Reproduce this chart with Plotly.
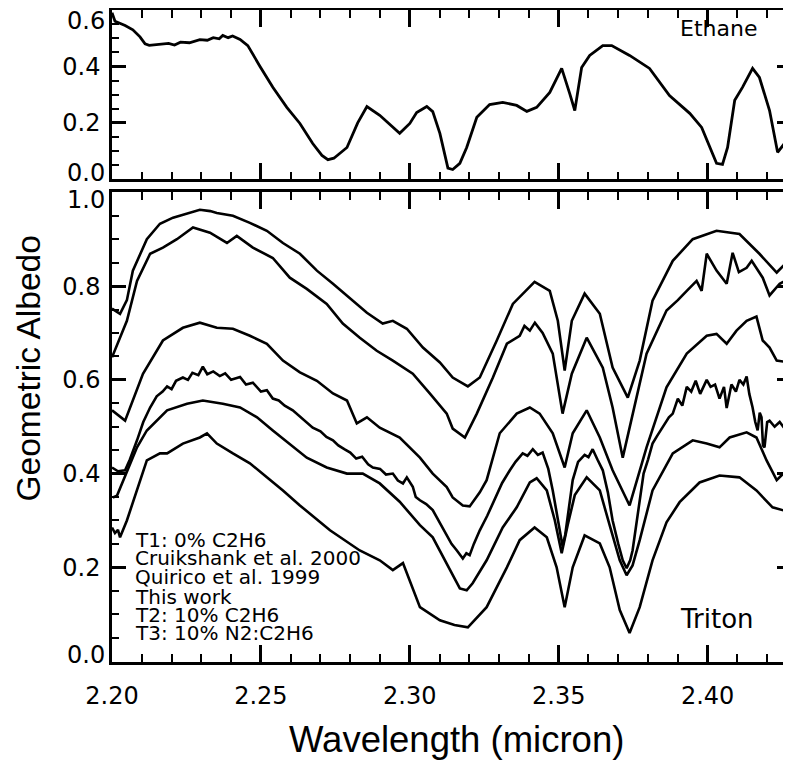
import plotly.graph_objects as go

# ---------------- Ethane (top panel) ----------------
eth_wl = [2.2000, 2.2010, 2.2044, 2.2070, 2.2094, 2.2111, 2.2125, 2.2160, 2.2190, 2.2210, 2.2230,
          2.2260, 2.2280, 2.2295, 2.2320, 2.2340, 2.2360, 2.2372, 2.2390, 2.2405, 2.2430, 2.2456,
          2.2497, 2.2540, 2.2587, 2.2631, 2.2674, 2.2705, 2.2725, 2.2745, 2.2789, 2.2825, 2.2856,
          2.2899, 2.2966, 2.3000, 2.3023, 2.3057, 2.3077, 2.3101, 2.3128, 2.3144, 2.3168, 2.3191,
          2.3225, 2.3268, 2.3312, 2.3359, 2.3393, 2.3426, 2.3470, 2.3510, 2.3537, 2.3554, 2.3577,
          2.3604, 2.3648, 2.3678, 2.3738, 2.3805, 2.3872, 2.3940, 2.3980, 2.4007, 2.4030, 2.4050,
          2.4067, 2.4091, 2.4117, 2.4151, 2.4174, 2.4208, 2.4235, 2.4258, 2.4280]
eth_alb = [0.59, 0.56, 0.545, 0.53, 0.505, 0.48, 0.475, 0.48, 0.482, 0.476, 0.486,
           0.484, 0.49, 0.495, 0.493, 0.502, 0.498, 0.51, 0.502, 0.508, 0.496, 0.474,
           0.40, 0.326, 0.255, 0.198, 0.127, 0.085, 0.07, 0.075, 0.113, 0.20, 0.258,
           0.227, 0.163, 0.198, 0.237, 0.258, 0.24, 0.163, 0.04, 0.035, 0.057, 0.113,
           0.22, 0.265, 0.273, 0.262, 0.241, 0.255, 0.308, 0.393, 0.304, 0.244, 0.396,
           0.439, 0.474, 0.474, 0.439, 0.393, 0.297, 0.234, 0.184, 0.113, 0.057, 0.053,
           0.113, 0.28, 0.326, 0.393, 0.361, 0.244, 0.096, 0.127, 0.19]

# ---------------- Triton (lower panel) ----------------
c1_wl = [2.2000, 2.2027, 2.2050, 2.2070, 2.2117, 2.2161, 2.2205, 2.2262, 2.2295, 2.2330, 2.2352,
         2.2406, 2.2463, 2.2520, 2.2574, 2.2631, 2.2688, 2.2742, 2.2799, 2.2856, 2.2909, 2.2943,
         2.2990, 2.3044, 2.3101, 2.3124, 2.3144, 2.3195, 2.3235, 2.3292, 2.3346, 2.3419, 2.3470,
         2.3497, 2.3520, 2.3544, 2.3587, 2.3638, 2.3681, 2.3732, 2.3772, 2.3815, 2.3883, 2.3950,
         2.4030, 2.4107, 2.4174, 2.4232, 2.4280]
c1_alb = [0.752, 0.741, 0.77, 0.833, 0.90, 0.933, 0.946, 0.956, 0.963, 0.96, 0.956,
          0.95, 0.935, 0.918, 0.892, 0.869, 0.833, 0.805, 0.773, 0.743, 0.72, 0.726,
          0.709, 0.669, 0.637, 0.62, 0.605, 0.586, 0.605, 0.684, 0.762, 0.809, 0.79,
          0.726, 0.62, 0.726, 0.784, 0.741, 0.626, 0.562, 0.641, 0.769, 0.854, 0.90,
          0.918, 0.911, 0.869, 0.829, 0.86]

c2_wl = [2.2000, 2.2050, 2.2084, 2.2128, 2.2171, 2.2218, 2.2272, 2.2329, 2.2386, 2.2419, 2.2473,
         2.2540, 2.2597, 2.2654, 2.2721, 2.2775, 2.2832, 2.2889, 2.2943, 2.3010, 2.3067, 2.3124,
         2.3144, 2.3185, 2.3225, 2.3279, 2.3326, 2.3369, 2.3385, 2.3403, 2.3420, 2.3446, 2.3480,
         2.3513, 2.3544, 2.3594, 2.3648, 2.3681, 2.3715, 2.3748, 2.3795, 2.3862, 2.3900, 2.3930,
         2.3963, 2.3980, 2.3997, 2.4030, 2.4064, 2.4084, 2.4105, 2.4131, 2.4148, 2.4185, 2.4208,
         2.4242, 2.4280]
c2_alb = [0.648, 0.726, 0.811, 0.869, 0.882, 0.90, 0.925, 0.914, 0.892, 0.907, 0.882,
          0.86, 0.818, 0.794, 0.762, 0.72, 0.69, 0.662, 0.641, 0.613, 0.571, 0.528,
          0.496, 0.477, 0.528, 0.605, 0.677, 0.694, 0.715, 0.705, 0.722, 0.70, 0.656,
          0.528, 0.613, 0.69, 0.626, 0.541, 0.434, 0.528, 0.656, 0.748, 0.77, 0.79,
          0.811, 0.79, 0.869, 0.833, 0.805, 0.871, 0.83, 0.839, 0.854, 0.818, 0.78,
          0.805, 0.818]

c3_wl = [2.2000, 2.2044, 2.2104, 2.2171, 2.2238, 2.2295, 2.2352, 2.2406, 2.2463, 2.2520, 2.2574,
         2.2631, 2.2688, 2.2742, 2.2789, 2.2822, 2.2856, 2.2899, 2.2966, 2.3034, 2.3077, 2.3124,
         2.3144, 2.3178, 2.3201, 2.3235, 2.3258, 2.3302, 2.3359, 2.3403, 2.3436, 2.3480, 2.3520,
         2.3547, 2.3594, 2.3638, 2.3681, 2.3738, 2.3795, 2.3862, 2.3930, 2.3997, 2.4030, 2.4064,
         2.4097, 2.4131, 2.4164, 2.4185, 2.4208, 2.4232, 2.4280]
c3_alb = [0.535, 0.513, 0.613, 0.684, 0.711, 0.722, 0.711, 0.709, 0.694, 0.677, 0.641,
          0.616, 0.598, 0.571, 0.556, 0.507, 0.52, 0.498, 0.477, 0.434, 0.40, 0.371,
          0.349, 0.332, 0.33, 0.36, 0.386, 0.486, 0.528, 0.541, 0.528, 0.486, 0.413,
          0.486, 0.535, 0.477, 0.407, 0.332, 0.456, 0.584, 0.656, 0.694, 0.698, 0.677,
          0.705, 0.726, 0.735, 0.684, 0.669, 0.641, 0.637]

c4_wl = [2.2000, 2.2020, 2.2044, 2.2060, 2.2084, 2.2105, 2.2128, 2.2150, 2.2170, 2.2185, 2.2200,
         2.2215, 2.2238, 2.2255, 2.2270, 2.2290, 2.2305, 2.2320, 2.2340, 2.2362, 2.2380, 2.2400,
         2.2430, 2.2450, 2.2473, 2.2500, 2.2520, 2.2540, 2.2560, 2.2580, 2.2607, 2.2630, 2.2650,
         2.2674, 2.2700, 2.2720, 2.2742, 2.2760, 2.2780, 2.2800, 2.2820, 2.2840, 2.2860, 2.2876,
         2.2900, 2.2920, 2.2943, 2.2960, 2.2977, 2.2990, 2.3010, 2.3020, 2.3034, 2.3055, 2.3077,
         2.3100, 2.3124, 2.3140, 2.3158, 2.3178, 2.3190, 2.3201, 2.3215, 2.3235, 2.3260, 2.3292,
         2.3310, 2.3336, 2.3355, 2.3379, 2.3395, 2.3413, 2.3430, 2.3446, 2.3465, 2.3480, 2.3495,
         2.3505, 2.3513, 2.3522, 2.3530, 2.3547, 2.3565, 2.3587, 2.3600, 2.3614, 2.3630, 2.3648,
         2.3665, 2.3681, 2.3700, 2.3715, 2.3728, 2.3740, 2.3748, 2.3760, 2.3772, 2.3785, 2.3800,
         2.3815, 2.3830, 2.3850, 2.3870, 2.3883, 2.3900, 2.3915, 2.3930, 2.3945, 2.3960, 2.3975,
         2.3997, 2.4010, 2.4025, 2.4040, 2.4055, 2.4064, 2.4080, 2.4095, 2.4107, 2.4120, 2.4131,
         2.4140, 2.4151, 2.4160, 2.4168, 2.4175, 2.4181, 2.4186, 2.4191, 2.4200, 2.4208, 2.4225,
         2.4242, 2.4260, 2.4280]
c4_alb = [0.413, 0.405, 0.407, 0.43, 0.471, 0.51, 0.541, 0.565, 0.575, 0.586, 0.580,
          0.598, 0.605, 0.600, 0.615, 0.610, 0.628, 0.612, 0.618, 0.608, 0.614, 0.600,
          0.606, 0.590, 0.594, 0.575, 0.578, 0.560, 0.556, 0.545, 0.535, 0.522, 0.51,
          0.498, 0.49, 0.478, 0.471, 0.46, 0.452, 0.445, 0.432, 0.436, 0.42, 0.413,
          0.41, 0.398, 0.40, 0.385, 0.379, 0.392, 0.372, 0.35, 0.343, 0.335, 0.322,
          0.295, 0.268, 0.25, 0.236, 0.219, 0.23, 0.226, 0.25, 0.279, 0.31, 0.354,
          0.38, 0.407, 0.425, 0.443, 0.438, 0.452, 0.44, 0.445, 0.41, 0.364, 0.31,
          0.27, 0.245, 0.27, 0.31, 0.386, 0.425, 0.44, 0.435, 0.452, 0.43, 0.407,
          0.36, 0.30, 0.25, 0.215, 0.198, 0.215, 0.236, 0.29, 0.343, 0.40, 0.43,
          0.464, 0.48, 0.50, 0.52, 0.528, 0.56, 0.545, 0.585, 0.575, 0.598, 0.57,
          0.60, 0.585, 0.59, 0.56, 0.585, 0.54, 0.59, 0.575, 0.60, 0.59, 0.607,
          0.57, 0.541, 0.51, 0.492, 0.53, 0.52, 0.46, 0.456, 0.51, 0.513, 0.50,
          0.51, 0.495, 0.52]

c5_wl = [2.2003, 2.2017, 2.2084, 2.2117, 2.2185, 2.2252, 2.2305, 2.2372, 2.2430, 2.2487, 2.2540,
         2.2597, 2.2654, 2.2721, 2.2789, 2.2842, 2.2899, 2.2966, 2.3034, 2.3077, 2.3124, 2.3168,
         2.3191, 2.3211, 2.3258, 2.3312, 2.3359, 2.3403, 2.3426, 2.3460, 2.3487, 2.3510, 2.3530,
         2.3554, 2.3594, 2.3638, 2.3671, 2.3705, 2.3728, 2.3748, 2.3772, 2.3815, 2.3883, 2.3950,
         2.3997, 2.4040, 2.4074, 2.4131, 2.4164, 2.4198, 2.4232, 2.4265, 2.4280]
c5_alb = [0.349, 0.353, 0.456, 0.492, 0.535, 0.549, 0.556, 0.549, 0.541, 0.52, 0.492,
          0.464, 0.434, 0.413, 0.40, 0.40, 0.379, 0.34, 0.29, 0.264, 0.209, 0.155,
          0.151, 0.166, 0.215, 0.285, 0.328, 0.381, 0.39, 0.364, 0.30, 0.23, 0.29,
          0.354, 0.392, 0.364, 0.29, 0.215, 0.183, 0.204, 0.258, 0.364, 0.443, 0.471,
          0.464, 0.456, 0.477, 0.488, 0.477, 0.428, 0.386, 0.407, 0.41]

c6_wl = [2.2000, 2.2010, 2.2020, 2.2027, 2.2050, 2.2094, 2.2117, 2.2161, 2.2185, 2.2238, 2.2295,
         2.2319, 2.2352, 2.2406, 2.2463, 2.2520, 2.2574, 2.2631, 2.2732, 2.2832, 2.2899, 2.2943,
         2.2977, 2.3034, 2.3101, 2.3150, 2.3195, 2.3258, 2.3326, 2.3369, 2.3419, 2.3460, 2.3493,
         2.3520, 2.3547, 2.3587, 2.3638, 2.3671, 2.3705, 2.3738, 2.3772, 2.3815, 2.3862, 2.3906,
         2.3973, 2.4040, 2.4107, 2.4164, 2.4218, 2.4280]
c6_alb = [0.285, 0.273, 0.28, 0.264, 0.30, 0.386, 0.428, 0.443, 0.443, 0.464, 0.477,
          0.486, 0.464, 0.443, 0.422, 0.392, 0.364, 0.332, 0.279, 0.236, 0.215, 0.194,
          0.209, 0.115, 0.087, 0.077, 0.072, 0.115, 0.20, 0.258, 0.285, 0.264, 0.20,
          0.115, 0.20, 0.268, 0.251, 0.20, 0.109, 0.06, 0.115, 0.215, 0.296, 0.339,
          0.381, 0.396, 0.392, 0.364, 0.328, 0.317]

legend_lines = ["T1: 0% C2H6", "Cruikshank et al. 2000", "Quirico et al. 1999",
                "This work", "T2: 10% C2H6", "T3: 10% N2:C2H6"]

x_range = [2.20, 2.428]
x_ticks = [2.20, 2.25, 2.30, 2.35, 2.40]
top_y_range = [0.0, 0.6]
top_y_ticks = [0.2, 0.4]
low_y_range = [-0.002, 1.0]
low_y_ticks = [0.2, 0.4, 0.6, 0.8]

fig = go.Figure()
LINE = dict(color="black", width=2.6)
fig.add_trace(go.Scatter(x=eth_wl, y=eth_alb, mode="lines", line=dict(color="black", width=2.8),
                         xaxis="x", yaxis="y", showlegend=False, hoverinfo="skip"))
for wl, alb in [(c1_wl, c1_alb), (c2_wl, c2_alb), (c3_wl, c3_alb),
                (c4_wl, c4_alb), (c5_wl, c5_alb), (c6_wl, c6_alb)]:
    fig.add_trace(go.Scatter(x=wl, y=alb, mode="lines", line=LINE,
                             xaxis="x2", yaxis="y2", showlegend=False, hoverinfo="skip"))

tickfont = dict(family="DejaVu Sans", size=24, color="black")
common_x = dict(range=x_range, tickmode="array", tickvals=x_ticks,
                ticks="inside", ticklen=17, tickwidth=2.5, tickcolor="black",
                minor=dict(dtick=0.01, tick0=2.2, ticks="inside", ticklen=8, tickwidth=2.2,
                           tickcolor="black"),
                showline=True, linewidth=2.5, linecolor="black", mirror="ticks",
                showgrid=False, zeroline=False, tickfont=tickfont, automargin=False)
common_y = dict(ticks="inside", ticklen=14, tickwidth=2.5, tickcolor="black",
                showline=True, linewidth=2.5, linecolor="black", mirror="ticks",
                showgrid=False, zeroline=False, tickfont=tickfont, tickformat=".1f",
                tickmode="array", ticklabelstandoff=4, automargin=False,
                minor=dict(dtick=0.05, tick0=0, ticks="inside", ticklen=7, tickwidth=2.2,
                           tickcolor="black"))

# the page body adds an 8 px offset, so the figure is sized to fit inside the window
fig.update_layout(
    width=783, height=756,
    margin=dict(l=104, r=0, t=1.5, b=102, autoexpand=False),
    paper_bgcolor="white", plot_bgcolor="white",
    xaxis=dict(common_x, anchor="y", showticklabels=False),
    yaxis=dict(common_y, domain=[0.7402, 1.0], range=top_y_range, tickvals=top_y_ticks, anchor="x"),
    xaxis2=dict(common_x, anchor="y2", tickformat=".2f", ticklabelstandoff=10),
    yaxis2=dict(common_y, domain=[0.0, 0.7203], range=low_y_range, tickvals=low_y_ticks, anchor="x2"),
)

# end-of-axis labels, nudged inside the box as in the original
end_labels = [("0.6", "y", top_y_range[1], -11), ("0.0", "y", top_y_range[0], 6),
              ("1.0", "y2", low_y_range[1], -8), ("0.0", "y2", 0.0, 6)]
for txt, yr, val, shift in end_labels:
    fig.add_annotation(text=txt, x=0, xref="paper", y=val, yref=yr, yshift=shift,
                       xanchor="right", yanchor="middle", xshift=-5, showarrow=False,
                       font=tickfont)

anns = [
    dict(text="Ethane", x=0.8925, y=0.971, font=dict(family="DejaVu Sans", size=22)),
    dict(text="Triton", x=0.891, y=0.0658, font=dict(family="DejaVu Sans", size=26)),
    dict(text="Geometric Albedo", x=-0.1237, y=0.4502, textangle=-90,
         font=dict(family="Liberation Sans", size=33.5)),
    dict(text="Wavelength (micron)", x=0.508, y=-0.1194,
         font=dict(family="Liberation Sans", size=36.5)),
]
for a in anns:
    a.update(xref="paper", yref="paper", showarrow=False, xanchor="center", yanchor="middle")
    a["font"]["color"] = "black"
    fig.add_annotation(**a)

leg_y = [0.1868, 0.1593, 0.1302, 0.0995, 0.0720, 0.0444]
for txt, yy in zip(legend_lines, leg_y):
    fig.add_annotation(text=txt, x=0.0309, y=yy, xref="paper", yref="paper", showarrow=False,
                       xanchor="left", yanchor="middle",
                       font=dict(family="DejaVu Sans", size=20, color="black"))

fig.write_html("out.html")
